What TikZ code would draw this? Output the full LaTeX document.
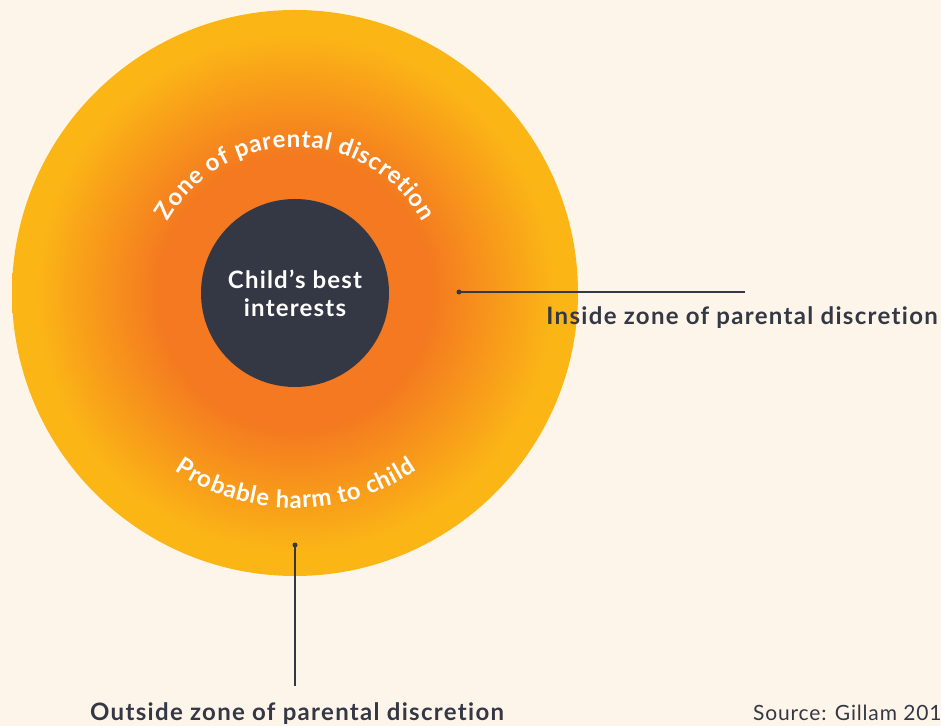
\documentclass[tikz,border=0pt]{standalone}
\usepackage{fontspec}
\setmainfont{Lato}[Ligatures=NoCommon]
\usetikzlibrary{calc,decorations.text}

\definecolor{paper}{HTML}{FEF5EA}
\definecolor{zoneorange}{HTML}{F47920}
\definecolor{zoneyellow}{HTML}{FBB616}
\definecolor{ink}{HTML}{343844}

% warm glow: orange core fading to yellow at the rim
\pgfdeclareradialshading{zoneglow}{\pgfpoint{0bp}{0bp}}{%
  color(0bp)=(zoneorange); color(12bp)=(zoneorange);
  color(23bp)=(zoneyellow); color(50bp)=(zoneyellow)}

\newcommand\arcfont{\color{white}\bfseries\fontsize{24}{24}\selectfont}
\newcommand\tracked[1]{\addfontfeatures{LetterSpace=#1}}

\begin{document}
\begin{tikzpicture}[x=1pt,y=1pt,
  zone/.style={circle, inner sep=0pt, minimum size=566pt, shading=zoneglow},
  core/.style={circle, inner sep=0pt, minimum size=188pt, fill=ink, text=white,
    align=center, font=\bfseries\fontsize{24}{28}\selectfont\tracked{5}},
  pin/.style={circle, fill=ink, inner sep=0pt, minimum size=5pt},
  leader/.style={draw=ink, line width=1.1pt},
  callout/.style={text=ink, inner sep=0pt, font=\bfseries\fontsize{24}{28}\selectfont\tracked{5.5}},
  credit/.style={text=ink, inner sep=0pt, font=\fontsize{21}{26}\selectfont\tracked{4}},
]
\fill[paper] (0,0) rectangle (941,726);
\useasboundingbox (0,0) rectangle (941,726);

% zones
\node[zone] (outer) at (295,433) {};
\node[core] (core) at (295,433) {Child’s best\\interests};

% curved zone names
\path[white, decorate, decoration={text along path, text align=fit to path,
    text={|\arcfont|Zone of parental discretion}}]
  ([shift={(150.5:146)}]outer.center) arc[start angle=150.5, end angle=29, radius=146];
\path[white, decorate, decoration={text along path, text align=fit to path,
    text={|\arcfont|Probable harm to child}}]
  ([shift={(235.8:215)}]outer.center) arc[start angle=235.8, end angle=304.5, radius=215];

% callouts
\node[pin] (pinin) at (459,434) {};
\coordinate (leadin) at (745,434);
\draw[leader] (pinin.center) -- (leadin);
\node[callout, anchor=base east] (inlab) at (938,401) {Inside zone of parental discretion};

\node[pin] (pinout) at (295,181) {};
\coordinate (leadout) at (295,40);
\draw[leader] (pinout.center) -- (leadout);
\node[callout, anchor=base west] (outlab) at (90,6) {Outside zone of parental discretion};

\node[credit, anchor=base west] (src) at (753,6) {Source: Gillam 201};
\end{tikzpicture}
\end{document}
